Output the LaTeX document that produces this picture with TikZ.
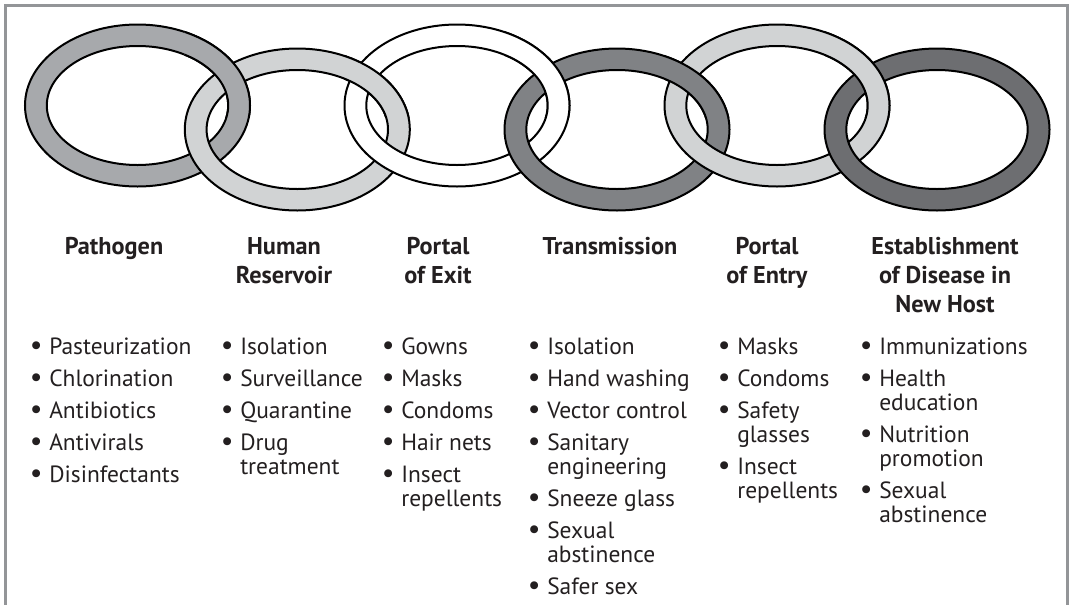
\documentclass[tikz,border=0pt]{standalone}
\usepackage{fontspec}
\setmainfont{PT Sans}
\definecolor{ringA}{HTML}{A7A9AC}
\definecolor{ringB}{HTML}{D1D3D4}
\definecolor{ringC}{HTML}{808285}
\definecolor{ringD}{HTML}{6D6E71}
\definecolor{framegray}{HTML}{939598}
\definecolor{ink}{HTML}{231F20}
\newcommand\itemfont{\fontsize{17.6pt}{18pt}\selectfont}
\newcommand\headfont{\fontsize{18.2pt}{22pt}\selectfont\bfseries}
\newcommand\itm[1]{\llap{\raisebox{-0.3pt}{\scalebox{1.2}{\textbullet}}\hspace{5pt}}#1}
\newcommand\gap{\\[6pt]}
\newcommand\ring[3]{\path[ringline, fill=#3] (#1,#2) ellipse [x radius=112.5, y radius=81] (#1,#2) ellipse [x radius=90.7, y radius=59.5];}
\newcommand\ringover[4]{\begin{scope}\clip (#4-113,0) rectangle (#1+114,117.5); \ring{#1}{#2}{#3}\end{scope}}
\begin{document}
\begin{tikzpicture}[x=0.75pt,y=-0.75pt,
  ringline/.style={draw=black, line width=1.5pt, even odd rule},
  frame/.style={draw=framegray, line width=2pt},
  head/.style={inner sep=0pt, anchor=base, text=ink, font=\headfont},
  items/.style={inner sep=0pt, anchor=base west, text=ink, font=\itemfont}]
\useasboundingbox (0,0) rectangle (1069,604);
% frame
\draw[frame] (5.5,620) -- (5.5,5.5) -- (1067.5,5.5) -- (1067.5,620);
% rings
\ring{137.5}{105.5}{ringA}
\ring{297.3}{129.5}{ringB}
\ring{457}{105.5}{white}
\ring{617}{129.5}{ringC}
\ring{777}{105.5}{ringB}
\ring{937}{129.5}{ringD}
\ringover{137.5}{105.5}{ringA}{297.3}
\ringover{297.3}{129.5}{ringB}{457}
\ringover{457}{105.5}{white}{617}
\ringover{617}{129.5}{ringC}{777}
\ringover{777}{105.5}{ringB}{937}
% headers
\node[head] (h1) at (114,254) {\begin{tabular}[t]{@{}c@{}}Pathogen\end{tabular}};
\node[head] (h2) at (284,254) {\begin{tabular}[t]{@{}c@{}}Human\\Reservoir\end{tabular}};
\node[head] (h3) at (438,254) {\begin{tabular}[t]{@{}c@{}}Portal\\of Exit\end{tabular}};
\node[head] (h4) at (610,254) {\begin{tabular}[t]{@{}c@{}}Transmission\end{tabular}};
\node[head] (h5) at (767,254) {\begin{tabular}[t]{@{}c@{}}Portal\\of Entry\end{tabular}};
\node[head] (h6) at (945,254) {\begin{tabular}[t]{@{}c@{}}Establishment\\of Disease in\\New Host\end{tabular}};
% lists
\node[items] (l1) at (49,354) {\begin{tabular}[t]{@{}l@{}}\itm{Pasteurization}\gap\itm{Chlorination}\gap\itm{Antibiotics}\gap\itm{Antivirals}\gap\itm{Disinfectants}\end{tabular}};
\node[items] (l2) at (240,354) {\begin{tabular}[t]{@{}l@{}}\itm{Isolation}\gap\itm{Surveillance}\gap\itm{Quarantine}\gap\itm{Drug}\\treatment\end{tabular}};
\node[items] (l3) at (401,354) {\begin{tabular}[t]{@{}l@{}}\itm{Gowns}\gap\itm{Masks}\gap\itm{Condoms}\gap\itm{Hair nets}\gap\itm{Insect}\\repellents\end{tabular}};
\node[items] (l4) at (547,354) {\begin{tabular}[t]{@{}l@{}}\itm{Isolation}\gap\itm{Hand washing}\gap\itm{Vector control}\gap\itm{Sanitary}\\engineering\gap\itm{Sneeze glass}\gap\itm{Sexual}\\abstinence\gap\itm{Safer sex}\end{tabular}};
\node[items] (l5) at (737,354) {\begin{tabular}[t]{@{}l@{}}\itm{Masks}\gap\itm{Condoms}\gap\itm{Safety}\\glasses\gap\itm{Insect}\\repellents\end{tabular}};
\node[items] (l6) at (879,354) {\begin{tabular}[t]{@{}l@{}}\itm{Immunizations}\gap\itm{Health}\\education\gap\itm{Nutrition}\\promotion\gap\itm{Sexual}\\abstinence\end{tabular}};
\end{tikzpicture}
\end{document}
